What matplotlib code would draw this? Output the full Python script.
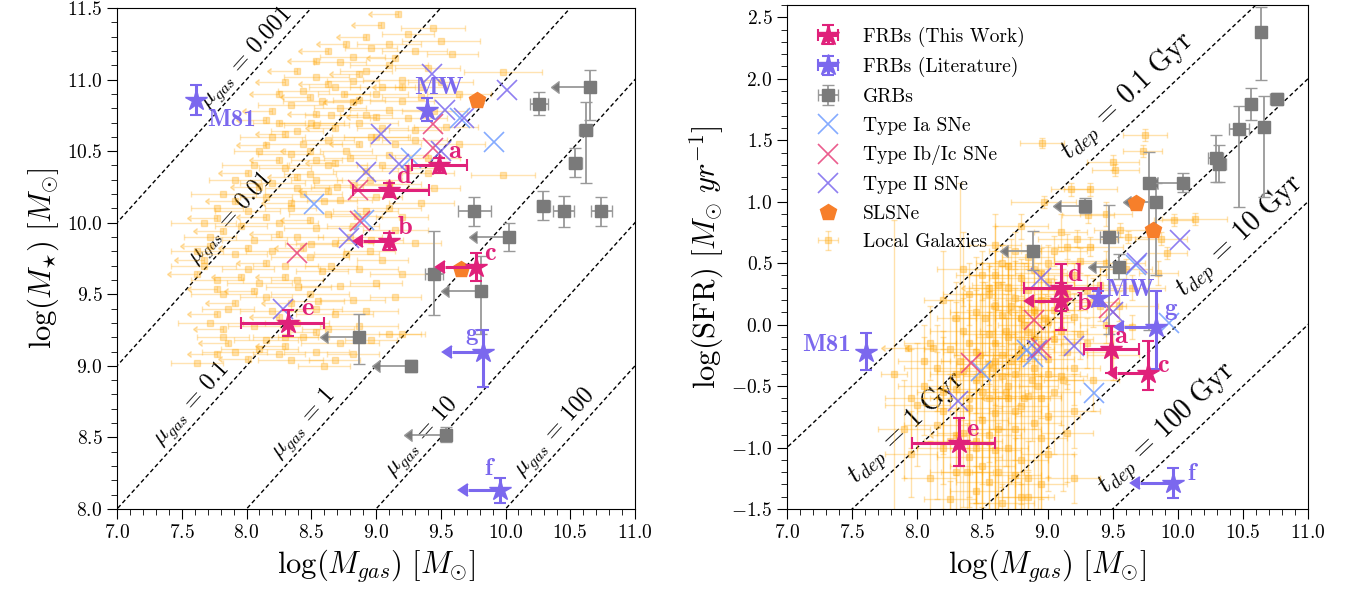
import numpy as np
import matplotlib.pyplot as plt
from matplotlib.ticker import MultipleLocator

plt.rcParams['font.family'] = 'serif'
plt.rcParams['font.serif'] = ['cmr10', 'DejaVu Serif']
plt.rcParams['mathtext.fontset'] = 'cm'
plt.rcParams['axes.formatter.use_mathtext'] = True

# ---------------- FRB hosts (this work) ----------------
frb_labels = ['a', 'b', 'c', 'd', 'e']
frb_mgas = [9.49, 9.10, 9.77, 9.10, 8.32]
frb_mgas_lo = [0.21, 0.20, 0.24, 0.28, 0.36]
frb_mgas_hi = [0.21, 0.0, 0.0, 0.31, 0.28]
frb_mgas_ul = [False, True, True, False, False]
frb_mstar = [10.40, 9.87, 9.69, 10.23, 9.30]
frb_mstar_err = [0.05, 0.06, 0.10, 0.05, 0.09]
frb_sfr = [-0.20, 0.19, -0.39, 0.30, -0.96]
frb_sfr_lo = [0.19, 0.23, 0.14, 0.19, 0.19]
frb_sfr_hi = [0.19, 0.15, 0.26, 0.19, 0.20]

# ---------------- FRB hosts (literature) ----------------
lit_labels = ['M81', 'MW', 'g', 'f']
lit_mgas = [7.61, 9.39, 9.83, 9.96]
lit_mgas_err = [0.0, 0.0, 0.24, 0.25]
lit_mgas_ul = [False, False, True, True]
lit_mstar = [10.86, 10.79, 9.10, 8.13]
lit_mstar_lo = [0.11, 0.08, 0.25, 0.09]
lit_mstar_hi = [0.10, 0.08, 0.15, 0.09]
lit_sfr = [-0.22, 0.215, -0.02, -1.29]
lit_sfr_lo = [0.15, 0.06, 0.34, 0.12]
lit_sfr_hi = [0.15, 0.06, 0.29, 0.12]

# ---------------- GRB hosts ----------------
grb_l_mgas = [10.65, 10.26, 10.62, 10.54, 9.76, 10.29, 10.45, 10.74, 10.03, 9.45, 9.81, 8.87, 9.27, 9.54]
grb_l_mgas_err = [0.24, 0.07, 0.05, 0.05, 0.13, 0.05, 0.08, 0.08, 0.25, 0.07, 0.25, 0.24, 0.24, 0.26]
grb_l_ul = [True, False, False, False, False, False, False, False, True, False, True, True, True, True]
grb_l_mstar = [10.95, 10.83, 10.65, 10.42, 10.08, 10.12, 10.08, 10.08, 9.90, 9.645, 9.52, 9.20, 9.00, 8.52]
grb_l_mstar_lo = [0.23, 0.08, 0.37, 0.10, 0.10, 0.10, 0.11, 0.10, 0.10, 0.29, 0.30, 0.19, 0.04, 0.05]
grb_l_mstar_hi = [0.12, 0.08, 0.19, 0.10, 0.10, 0.10, 0.11, 0.10, 0.10, 0.30, 0.25, 0.16, 0.04, 0.05]

grb_r_mgas = [10.64, 10.56, 10.76, 10.47, 10.66, 10.29, 10.32, 9.78, 9.47, 10.04, 9.83, 9.29, 8.89, 9.55]
grb_r_mgas_err = [0.04, 0.04, 0.05, 0.08, 0.04, 0.06, 0.05, 0.04, 0.07, 0.19, 0.19, 0.19, 0.19, 0.18]
grb_r_ul = [False, False, False, False, False, False, False, False, False, True, True, True, True, True]
grb_r_sfr = [2.38, 1.795, 1.836, 1.59, 1.61, 1.354, 1.31, 1.155, 0.71, 1.155, 1.0, 0.968, 0.602, 0.472]
grb_r_sfr_lo = [0.39, 0.13, 0.05, 0.63, 0.57, 0.19, 0.15, 1.2, 0.79, 0.08, 0.6, 0.06, 0.16, 0.10]
grb_r_sfr_hi = [0.20, 0.13, 0.05, 0.19, 0.25, 0.19, 0.15, 0.25, 0.26, 0.08, 0.15, 0.06, 0.16, 0.10]

# ---------------- SNe / SLSNe hosts ----------------
ia_l_mgas = [8.52, 8.91, 9.65, 9.91, 9.27]
ia_l_mstar = [10.13, 10.02, 10.73, 10.565, 10.45]
ibc_l_mgas = [8.86, 9.44, 9.44, 8.88, 8.39]
ibc_l_mstar = [10.23, 10.69, 10.52, 10.01, 9.785]
ii_l_mgas = [9.04, 8.92, 8.79, 9.43, 9.53, 9.68, 10.01, 9.50, 9.18, 8.28]
ii_l_mstar = [10.62, 10.355, 9.89, 11.04, 10.79, 10.73, 10.93, 10.50, 10.41, 9.40]
sl_l_mgas = [9.78, 9.66]
sl_l_mstar = [10.857, 9.68]

ia_r_mgas = [9.68, 9.93, 9.36, 8.89, 8.49, 8.84]
ia_r_sfr = [0.486, 0.012, -0.557, -0.26, -0.38, -0.205]
ibc_r_mgas = [9.47, 8.90, 8.41, 8.95]
ibc_r_sfr = [0.136, 0.04, -0.313, -0.19]
ii_r_mgas = [10.02, 8.95, 9.50, 9.20, 8.31, 8.92, 9.69]
ii_r_sfr = [0.69, 0.378, 0.106, -0.178, -0.625, -0.205, 0.50]
sl_r_mgas = [9.68, 9.81]
sl_r_sfr = [0.99, 0.77]

# ---------------- local galaxies, left panel (log Mgas, log M*, xerr) ----------------
lg_l_det = [
    (9.44, 11.36, 0.25),
    (9.25, 11.32, 0.2), (9.50, 11.27, 0.3), (9.10, 11.25, 0.25),
    (8.96, 11.22, 0.2), (9.30, 11.20, 0.25), (9.59, 11.18, 0.2), (8.82, 11.16, 0.25),
    (8.72, 11.12, 0.2), (9.10, 11.10, 0.3), (9.40, 11.08, 0.25), (8.92, 11.06, 0.2), (9.98, 11.05, 0.3),
    (8.54, 11.02, 0.25), (8.82, 10.99, 0.2), (9.20, 11.00, 0.3), (9.50, 10.98, 0.25), (8.68, 10.95, 0.2),
    (8.44, 10.92, 0.2), (9.00, 10.90, 0.25), (9.35, 10.88, 0.3), (8.87, 10.86, 0.2), (9.64, 10.90, 0.25),
    (8.58, 10.85, 0.3),
    (8.34, 10.82, 0.25), (8.72, 10.80, 0.2), (9.10, 10.79, 0.3), (9.45, 10.78, 0.25), (8.92, 10.75, 0.2),
    (9.25, 10.73, 0.3),
    (8.25, 10.70, 0.2), (8.54, 10.68, 0.25), (8.87, 10.70, 0.3), (9.05, 10.66, 0.2), (9.54, 10.67, 0.25),
    (8.39, 10.64, 0.2),
    (8.20, 10.60, 0.25), (8.63, 10.58, 0.2), (8.96, 10.60, 0.3), (9.30, 10.58, 0.25), (9.64, 10.55, 0.2),
    (8.44, 10.55, 0.3),
    (8.10, 10.50, 0.2), (8.34, 10.48, 0.25), (8.77, 10.50, 0.2), (9.10, 10.47, 0.3), (9.40, 10.45, 0.25),
    (8.54, 10.44, 0.2),
    (8.06, 10.40, 0.25), (8.30, 10.38, 0.2), (8.63, 10.40, 0.3), (8.92, 10.36, 0.25), (9.25, 10.38, 0.2),
    (9.98, 10.33, 0.25), (8.49, 10.34, 0.2),
    (7.91, 10.30, 0.2), (8.20, 10.28, 0.25), (8.54, 10.30, 0.2), (8.82, 10.26, 0.3), (9.10, 10.27, 0.25),
    (9.45, 10.24, 0.2), (8.39, 10.24, 0.25),
    (7.82, 10.20, 0.25), (8.15, 10.18, 0.2), (8.44, 10.20, 0.3), (8.72, 10.16, 0.25), (9.00, 10.18, 0.2),
    (9.35, 10.14, 0.25),
    (7.77, 10.10, 0.2), (8.01, 10.08, 0.25), (8.34, 10.10, 0.2), (8.63, 10.06, 0.3), (8.92, 10.08, 0.25),
    (9.20, 10.04, 0.2),
    (7.67, 10.00, 0.25), (7.96, 9.98, 0.2), (8.25, 10.00, 0.3), (8.54, 9.96, 0.25), (8.82, 9.98, 0.2),
    (9.15, 9.95, 0.25),
    (7.72, 9.90, 0.2), (8.06, 9.88, 0.25), (8.39, 9.90, 0.2), (8.68, 9.86, 0.3), (8.96, 9.88, 0.25),
    (9.30, 9.86, 0.2),
    (7.62, 9.80, 0.2), (7.91, 9.78, 0.25), (8.20, 9.80, 0.2), (8.49, 9.76, 0.3), (8.77, 9.78, 0.25),
    (9.05, 9.74, 0.2),
    (7.67, 9.70, 0.25), (8.01, 9.68, 0.2), (8.30, 9.70, 0.25), (8.58, 9.66, 0.2), (8.87, 9.68, 0.3),
    (9.20, 9.64, 0.25),
    (7.77, 9.60, 0.2), (8.10, 9.58, 0.25), (8.39, 9.60, 0.2), (8.72, 9.56, 0.3), (9.00, 9.58, 0.2),
    (7.82, 9.50, 0.25), (8.15, 9.48, 0.2), (8.49, 9.50, 0.3), (8.82, 9.46, 0.25), (9.15, 9.48, 0.2),
    (7.86, 9.40, 0.2), (8.20, 9.38, 0.25), (8.54, 9.40, 0.2), (8.68, 9.36, 0.3), (8.92, 9.38, 0.25),
    (7.72, 9.30, 0.25), (8.06, 9.28, 0.2), (8.39, 9.30, 0.25), (8.63, 9.26, 0.2), (8.87, 9.28, 0.3),
    (9.10, 9.22, 0.25), (9.20, 9.225, 0.18),
    (7.82, 9.20, 0.2), (8.15, 9.18, 0.25), (8.44, 9.20, 0.2), (8.72, 9.16, 0.3), (8.96, 9.18, 0.2),
    (7.91, 9.10, 0.25), (8.25, 9.08, 0.2), (8.54, 9.10, 0.25), (8.82, 9.08, 0.2), (8.10, 9.12, 0.3),
    (7.62, 9.02, 0.2), (8.34, 9.04, 0.25), (8.68, 9.04, 0.2),
    (8.75, 10.90, 0.2), (9.05, 10.95, 0.25), (8.65, 10.75, 0.2), (9.00, 10.60, 0.25), (8.80, 10.45, 0.2),
    (9.15, 10.55, 0.2), (8.95, 10.30, 0.25), (8.70, 10.25, 0.2), (9.05, 10.40, 0.2), (8.60, 10.15, 0.25),
    (8.85, 10.05, 0.2), (9.10, 10.10, 0.25), (8.50, 9.85, 0.2), (8.80, 9.90, 0.25), (8.65, 9.70, 0.2),
    (8.40, 9.55, 0.25), (8.95, 9.80, 0.2), (8.55, 9.45, 0.2), (8.30, 9.20, 0.25), (8.60, 9.00, 0.2),
    (9.20, 10.85, 0.25), (9.35, 10.95, 0.2), (9.30, 10.65, 0.2), (8.50, 10.70, 0.25), (9.40, 10.35, 0.2),
]
# upper limits on Mgas (left-pointing arrows)
lg_l_ul = [
    (9.17, 11.46), (9.04, 11.38), (8.92, 11.30), (8.77, 11.25), (8.63, 11.20), (9.15, 11.15),
    (8.54, 11.13), (8.39, 11.06), (8.87, 11.04), (8.30, 10.98), (8.63, 10.97), (9.20, 10.95),
    (8.25, 10.90), (8.49, 10.88), (8.82, 10.84), (8.20, 10.78), (8.54, 10.76), (9.00, 10.74),
    (8.15, 10.72), (8.68, 10.66), (8.30, 10.62), (8.87, 10.55), (8.15, 10.54), (8.49, 10.50),
    (8.25, 10.44), (8.68, 10.42), (8.01, 10.35), (8.39, 10.32), (8.10, 10.25), (8.63, 10.22),
    (7.91, 10.15), (8.34, 10.14), (7.77, 10.03), (8.15, 10.04), (8.49, 10.02), (7.82, 9.94),
    (8.25, 9.92), (7.72, 9.84), (8.01, 9.82), (8.44, 9.82), (7.67, 9.74), (8.15, 9.72),
    (7.62, 9.64), (7.96, 9.62), (8.30, 9.62), (7.77, 9.54), (8.06, 9.52), (7.91, 9.44),
    (8.34, 9.44), (7.77, 9.36), (8.25, 9.34), (7.82, 9.26), (8.54, 9.24), (7.86, 9.16),
    (8.30, 9.14), (7.77, 9.08), (8.01, 9.05),
]

# ---------------- local galaxies, right panel (log Mgas, log SFR, xerr, yerr) ----------------
lg_r_det = [
    (9.75, 1.54, 0.17, 0.05), (8.96, 1.48, 0.17, 0.04), (9.73, 1.41, 0.15, 0.05), (9.50, 1.32, 0.2, 0.06),
    (9.52, 1.26, 0.18, 0.05), (9.33, 1.10, 0.2, 0.05), (9.18, 1.10, 0.15, 0.05), (8.97, 1.00, 0.25, 0.05),
    (9.31, 0.89, 0.2, 0.06), (10.13, 0.86, 0.25, 0.05), (9.97, 0.85, 0.15, 0.05), (9.56, 0.77, 0.2, 0.06),
    (9.62, 0.71, 0.15, 0.05), (9.23, 0.70, 0.3, 0.07), (9.87, 0.70, 0.2, 0.05), (9.33, 0.635, 0.25, 0.08),
    (9.92, 0.58, 0.15, 0.05), (9.15, 0.635, 0.2, 0.1), (9.10, 0.75, 0.2, 0.15), (8.80, 0.80, 0.2, 0.1),
    (9.45, 0.90, 0.2, 0.1), (8.60, 0.65, 0.2, 0.15), (8.35, 0.45, 0.2, 0.3), (8.20, 0.20, 0.15, 0.4),
    (8.85, 0.55, 0.2, 0.1), (9.05, 0.60, 0.25, 0.12), (9.25, 0.52, 0.2, 0.1), (9.45, 0.50, 0.3, 0.1),
    (8.70, 0.48, 0.15, 0.15), (9.60, 0.45, 0.2, 0.08), (9.85, 0.42, 0.15, 0.1),
    (8.60, 0.40, 0.2, 0.2), (8.80, 0.38, 0.25, 0.15), (9.00, 0.35, 0.2, 0.12), (9.20, 0.40, 0.25, 0.1),
    (9.40, 0.32, 0.2, 0.15), (9.65, 0.30, 0.25, 0.1), (8.95, 0.42, 0.2, 0.2), (9.30, 0.28, 0.3, 0.12),
    (8.55, 0.25, 0.2, 0.25), (8.75, 0.22, 0.25, 0.3), (8.95, 0.20, 0.2, 0.2), (9.15, 0.25, 0.25, 0.15),
    (9.35, 0.18, 0.2, 0.2), (9.55, 0.15, 0.3, 0.12), (8.85, 0.28, 0.3, 0.2), (9.05, 0.12, 0.25, 0.25),
    (8.45, 0.10, 0.2, 0.3), (8.65, 0.08, 0.25, 0.25), (8.80, 0.05, 0.2, 0.35), (9.00, 0.02, 0.2, 0.2),
    (9.20, 0.06, 0.25, 0.2), (9.45, 0.00, 0.2, 0.15), (8.90, 0.12, 0.3, 0.3), (9.65, -0.02, 0.2, 0.1),
    (8.35, -0.05, 0.25, 0.3), (8.55, -0.08, 0.2, 0.4), (8.70, -0.10, 0.25, 0.3), (8.85, -0.06, 0.2, 0.25),
    (9.05, -0.12, 0.3, 0.3), (9.25, -0.08, 0.2, 0.2), (8.60, -0.15, 0.2, 0.5), (8.95, -0.16, 0.25, 0.6),
    (8.25, -0.20, 0.2, 0.4), (8.45, -0.22, 0.25, 0.5), (8.65, -0.25, 0.2, 0.6), (8.80, -0.20, 0.25, 0.4),
    (9.00, -0.28, 0.2, 0.5), (9.15, -0.22, 0.3, 0.3), (8.72, -0.30, 0.2, 1.0),
    (8.15, -0.35, 0.25, 0.35), (8.35, -0.38, 0.2, 0.6), (8.55, -0.32, 0.25, 0.8), (8.75, -0.40, 0.2, 0.7),
    (8.90, -0.35, 0.25, 0.5), (9.10, -0.42, 0.2, 0.4), (8.45, -0.45, 0.2, 1.0), (8.65, -0.42, 0.3, 0.9),
    (8.05, -0.50, 0.2, 0.4), (8.30, -0.52, 0.25, 0.7), (8.50, -0.55, 0.2, 0.9), (8.70, -0.50, 0.2, 1.0),
    (8.85, -0.58, 0.25, 0.6), (9.05, -0.55, 0.2, 0.5), (8.40, -0.60, 0.3, 0.8),
    (8.00, -0.65, 0.25, 0.5), (8.20, -0.70, 0.2, 0.6), (8.40, -0.68, 0.25, 0.8), (8.60, -0.72, 0.2, 0.9),
    (8.80, -0.66, 0.2, 0.8), (9.00, -0.74, 0.25, 0.5), (8.50, -0.78, 0.2, 0.7), (9.20, -0.70, 0.2, 0.3),
    (7.90, -0.85, 0.2, 0.4), (8.15, -0.82, 0.25, 0.6), (8.35, -0.88, 0.2, 0.6), (8.55, -0.90, 0.25, 0.6),
    (8.75, -0.85, 0.2, 0.7), (8.95, -0.92, 0.2, 0.5), (8.45, -0.95, 0.2, 0.5), (9.15, -0.88, 0.2, 0.4),
    (7.95, -1.05, 0.2, 0.35), (8.20, -1.00, 0.2, 0.5), (8.40, -1.08, 0.25, 0.45), (8.60, -1.02, 0.2, 0.5),
    (8.80, -1.10, 0.2, 0.4), (9.00, -1.05, 0.2, 0.3), (8.50, -1.15, 0.25, 0.4),
    (8.10, -1.25, 0.2, 0.3), (8.30, -1.20, 0.2, 0.3), (8.55, -1.28, 0.25, 0.3), (8.75, -1.22, 0.2, 0.3),
    (8.95, -1.30, 0.2, 0.25), (9.20, -1.25, 0.2, 0.2), (8.45, -1.35, 0.2, 0.2),
    (8.25, -1.42, 0.2, 0.15), (8.65, -1.45, 0.25, 0.15), (8.85, -1.40, 0.2, 0.2),
    (7.82, -0.40, 0.1, 1.25), (8.33, -0.30, 0.15, 1.45), (8.60, -0.30, 0.2, 1.2), (8.93, -0.50, 0.15, 1.0),
    (9.12, -0.45, 0.15, 0.9), (8.82, -0.60, 0.2, 1.1),
    (8.62, 0.32, 0.2, 0.2), (8.72, 0.15, 0.15, 0.25), (8.82, 0.00, 0.2, 0.3), (8.68, -0.05, 0.2, 0.3),
    (8.90, -0.10, 0.15, 0.3), (8.78, -0.25, 0.2, 0.4), (8.58, -0.35, 0.2, 0.5), (8.68, -0.55, 0.15, 0.6),
    (8.88, -0.45, 0.2, 0.5), (8.48, -0.25, 0.2, 0.5), (8.52, 0.05, 0.25, 0.3), (8.98, 0.05, 0.2, 0.2),
    (9.10, 0.20, 0.2, 0.15), (8.70, 0.30, 0.3, 0.2), (8.90, 0.45, 0.2, 0.15), (9.00, 0.50, 0.25, 0.15),
    (8.75, 0.60, 0.2, 0.15), (8.60, 0.15, 0.2, 0.3), (8.40, -0.15, 0.2, 0.4), (8.30, -0.40, 0.2, 0.5),
    (8.55, -0.60, 0.2, 0.7), (8.62, -0.85, 0.2, 0.7), (8.45, -1.00, 0.2, 0.6), (8.70, -1.00, 0.15, 0.6),
    (8.90, -0.80, 0.2, 0.7), (8.38, -1.20, 0.2, 0.4), (8.62, -1.20, 0.2, 0.4), (8.85, -1.25, 0.15, 0.3),
    (8.20, -0.55, 0.2, 0.5), (8.10, -0.15, 0.2, 0.3), (9.10, -0.05, 0.2, 0.2), (9.20, -0.35, 0.2, 0.3),
    (9.30, -0.15, 0.2, 0.2), (9.35, -0.45, 0.2, 0.25), (9.00, -0.40, 0.25, 0.6), (8.80, -1.40, 0.2, 0.1),
    (8.50, 0.40, 0.2, 0.2), (8.40, 0.25, 0.2, 0.25), (8.30, 0.05, 0.15, 0.3), (8.05, -0.30, 0.2, 0.3),
    (7.95, -0.60, 0.2, 0.4), (8.65, 0.50, 0.2, 0.15), (9.40, 0.15, 0.2, 0.12), (9.50, -0.25, 0.2, 0.2),
    (8.75, -0.70, 0.2, 0.8), (8.50, -0.40, 0.2, 0.9), (8.95, -0.60, 0.15, 0.9), (8.25, -0.95, 0.2, 0.55),
]
lg_r_ul = [(8.12, -0.19), (8.55, 0.30), (8.70, -0.60), (8.30, -0.90), (8.90, 0.10), (7.93, -0.19)]

mu_gas = [0.001, 0.01, 0.1, 1, 10, 100]
mu_text = ['0.001', '0.01', '0.1', '1', '10', '100']
mu_xpos = [8.0, 7.88, 7.58, 8.44, 9.35, 10.38]
t_dep = [0.1, 1, 10, 100]
t_text = ['0.1', '1', '10', '100']
t_xpos = [9.62, 7.92, 10.48, 9.92]

C_FRB = '#e0217a'
C_LIT = '#7b68ee'
C_GRB = '#7a7a7a'
C_IA = '#6f9cff'
C_IBC = '#e8407a'
C_II = '#7b68ee'
C_SL = '#f77f2a'
C_LG = 'orange'


def style_axes(ax, ylim, ymaj):
    ax.set_xlim(7, 11)
    ax.set_ylim(*ylim)
    ax.xaxis.set_major_locator(MultipleLocator(0.5))
    ax.xaxis.set_minor_locator(MultipleLocator(0.1))
    ax.yaxis.set_major_locator(MultipleLocator(ymaj))
    ax.yaxis.set_minor_locator(MultipleLocator(0.1))
    ax.tick_params(which='both', direction='out', top=False, right=False, labelsize=14)
    ax.tick_params(which='major', length=7)
    ax.tick_params(which='minor', length=4)
    ax.set_xlabel(r'$\log(M_{gas})\ [M_{\odot}]$', fontsize=22)


def add_labels(ax, xs, ys, names, color, offs, bold_size=19):
    for x, y, n, (dx, dy) in zip(xs, ys, names, offs):
        ax.annotate(n, (x, y), xytext=(dx, dy), textcoords='offset pixels',
                    ha='center', va='center', color=color, fontsize=bold_size,
                    fontfamily='cmb10', zorder=10)


fig = plt.figure(figsize=(13.46, 6.05), dpi=100)
ax1 = fig.add_axes([117 / 1346, 1 - 509 / 605, 518 / 1346, 501 / 605])
ax2 = fig.add_axes([787 / 1346, 1 - 509 / 605, 521 / 1346, 504 / 605])

# ===================== left: M* vs Mgas =====================
style_axes(ax1, (8, 11.5), 0.5)
ax1.set_ylabel(r'$\log(M_{\star})\ [M_{\odot}]$', fontsize=22)
xl = np.array([6.0, 12.0])
for mu, txt, xc in zip(mu_gas, mu_text, mu_xpos):
    ax1.plot(xl, xl - np.log10(mu), ls=(0, (3, 2)), color='k', lw=1, zorder=1)
    ax1.text(xc, xc - np.log10(mu) + 0.15, r'$\mu_{gas}\,=\,%s$' % txt, fontsize=17,
             rotation=45, transform_rotates_text=True, rotation_mode='anchor',
             ha='center', va='center', zorder=2)

lx, ly, lxe = zip(*lg_l_det)
ax1.errorbar(lx, ly, xerr=lxe, fmt='s', ms=4, color=C_LG, alpha=0.3, elinewidth=1,
             capsize=2, zorder=2)
ux, uy = zip(*lg_l_ul)
ax1.errorbar(ux, uy, xerr=0.2, xuplims=True, fmt='s', ms=4, color=C_LG, alpha=0.3,
             elinewidth=1, capsize=2, zorder=2)

ax1.plot(ia_l_mgas, ia_l_mstar, 'x', ms=14, mew=1.2, color=C_IA, alpha=0.85, zorder=3)
ax1.plot(ibc_l_mgas, ibc_l_mstar, 'x', ms=14, mew=1.2, color=C_IBC, alpha=0.85, zorder=3)
ax1.plot(ii_l_mgas, ii_l_mstar, 'x', ms=14, mew=1.2, color=C_II, alpha=0.85, zorder=3)

ax1.errorbar(grb_l_mgas, grb_l_mstar, xerr=grb_l_mgas_err, yerr=[grb_l_mstar_lo, grb_l_mstar_hi],
             xuplims=grb_l_ul, fmt='s', ms=8.5, color=C_GRB, ecolor='#999999', elinewidth=1.3,
             capsize=4, zorder=4)
ax1.plot(sl_l_mgas, sl_l_mstar, 'p', ms=12, color=C_SL, zorder=5)

ax1.errorbar(frb_mgas, frb_mstar, xerr=[frb_mgas_lo, frb_mgas_hi], yerr=frb_mstar_err,
             xuplims=frb_mgas_ul, fmt='*', ms=16, color=C_FRB, elinewidth=2.2, capsize=4.5,
             capthick=1.5, zorder=6)
ax1.errorbar(lit_mgas, lit_mstar, xerr=lit_mgas_err, yerr=[lit_mstar_lo, lit_mstar_hi],
             xuplims=lit_mgas_ul, fmt='*', ms=16, color=C_LIT, elinewidth=2.2, capsize=4.5,
             capthick=1.5, zorder=6)
add_labels(ax1, frb_mgas, frb_mstar, frb_labels, C_FRB,
           [(15, 14), (16, 14), (14, 14), (14, 13), (19, 14)])
add_labels(ax1, lit_mgas, lit_mstar, lit_labels, C_LIT,
           [(36, -20), (12, 22), (-12, 18), (-12, 21)], bold_size=18)

# ===================== right: SFR vs Mgas =====================
style_axes(ax2, (-1.5, 2.6), 0.5)
ax2.set_ylabel(r'$\log(\mathrm{SFR})\ [M_{\odot}\ yr^{-1}]$', fontsize=22)
for t, txt, xc in zip(t_dep, t_text, t_xpos):
    ax2.plot(xl, xl - 9 - np.log10(t), ls=(0, (3, 2)), color='k', lw=1, zorder=1)
    ax2.text(xc, xc - 9 - np.log10(t) + 0.23, r'$t_{dep}\,=\,%s\ \mathrm{Gyr}$' % txt,
             fontsize=20, rotation=45, transform_rotates_text=True, rotation_mode='anchor',
             ha='center', va='center', zorder=2)

rx, ry, rxe, rye = zip(*lg_r_det)
h_lg = ax2.errorbar(rx, ry, xerr=rxe, yerr=rye, fmt='s', ms=4, color=C_LG, alpha=0.33,
                    elinewidth=1, capsize=2, zorder=2)
vx, vy = zip(*lg_r_ul)
ax2.errorbar(vx, vy, xerr=0.18, xuplims=True, fmt='s', ms=4, color=C_LG, alpha=0.33,
             elinewidth=1, capsize=2, zorder=2)

h_ia, = ax2.plot(ia_r_mgas, ia_r_sfr, 'x', ms=14, mew=1.2, color=C_IA, alpha=0.85, zorder=3)
h_ibc, = ax2.plot(ibc_r_mgas, ibc_r_sfr, 'x', ms=14, mew=1.2, color=C_IBC, alpha=0.85, zorder=3)
h_ii, = ax2.plot(ii_r_mgas, ii_r_sfr, 'x', ms=14, mew=1.2, color=C_II, alpha=0.85, zorder=3)

h_grb = ax2.errorbar(grb_r_mgas, grb_r_sfr, xerr=grb_r_mgas_err, yerr=[grb_r_sfr_lo, grb_r_sfr_hi],
                     xuplims=grb_r_ul, fmt='s', ms=8.5, color=C_GRB, ecolor='#999999',
                     elinewidth=1.3, capsize=4, zorder=4)
h_sl, = ax2.plot(sl_r_mgas, sl_r_sfr, 'p', ms=12, color=C_SL, zorder=5)

h_frb = ax2.errorbar(frb_mgas, frb_sfr, xerr=[frb_mgas_lo, frb_mgas_hi], yerr=[frb_sfr_lo, frb_sfr_hi],
                     xuplims=frb_mgas_ul, fmt='*', ms=16, color=C_FRB, elinewidth=2.2,
                     capsize=4.5, capthick=1.5, zorder=6)
h_lit = ax2.errorbar(lit_mgas, lit_sfr, xerr=lit_mgas_err, yerr=[lit_sfr_lo, lit_sfr_hi],
                     xuplims=lit_mgas_ul, fmt='*', ms=16, color=C_LIT, elinewidth=2.2,
                     capsize=4.5, capthick=1.5, zorder=6)
add_labels(ax2, frb_mgas, frb_sfr, frb_labels, C_FRB,
           [(9, 13), (23, -2), (15, 7), (14, 13), (14, 13)])
add_labels(ax2, lit_mgas, lit_sfr, lit_labels, C_LIT,
           [(-40, 7), (32, 8), (15, 18), (19, 9)], bold_size=18)

ax2.legend([h_frb, h_lit, h_grb, h_ia, h_ibc, h_ii, h_sl, h_lg],
           ['FRBs (This Work)', 'FRBs (Literature)', 'GRBs', 'Type Ia SNe',
            'Type Ib/Ic SNe', 'Type II SNe', 'SLSNe', 'Local Galaxies'],
           loc='upper left', frameon=False, fontsize=14, labelspacing=0.55,
           handlelength=2.0, borderaxespad=0.7)

fig.savefig('out.png', dpi=100)
